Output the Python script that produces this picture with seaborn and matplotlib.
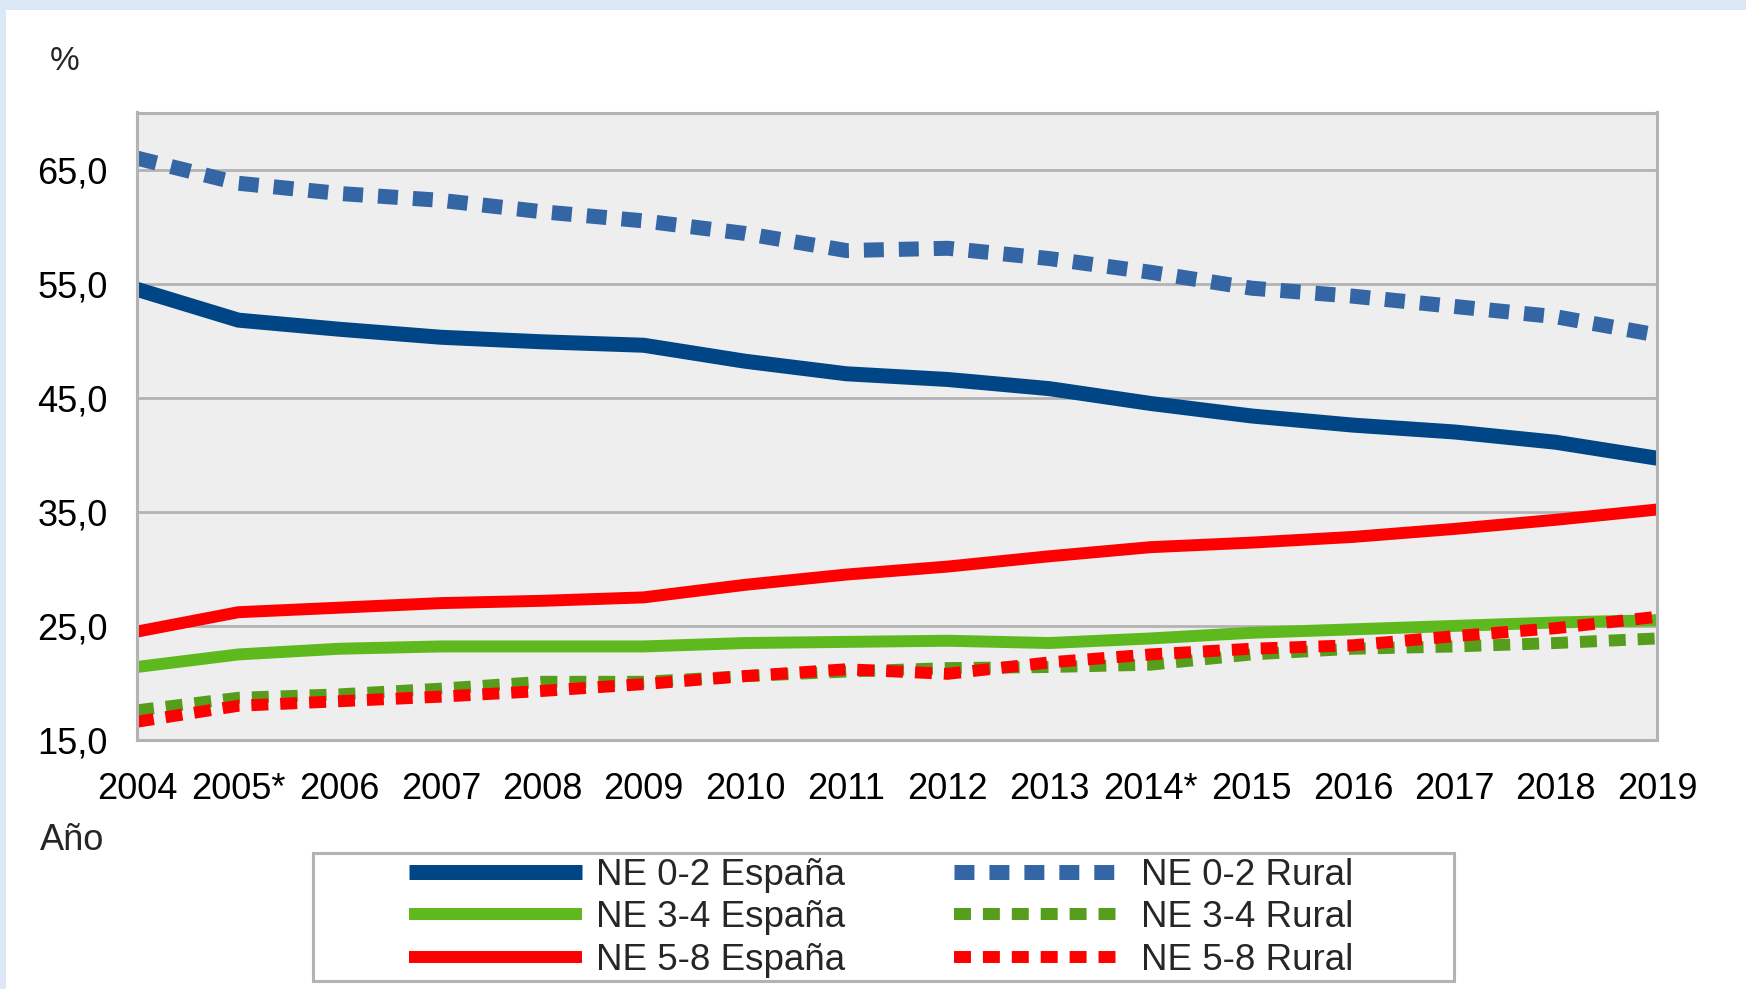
import pandas as pd
import matplotlib.pyplot as plt
import seaborn as sns
from matplotlib.lines import Line2D
from matplotlib.patches import Rectangle

# Datos (% por nivel de estudios)
anios = list(range(2004, 2020))
etiquetas_x = ['2004', '2005*', '2006', '2007', '2008', '2009', '2010', '2011',
               '2012', '2013', '2014*', '2015', '2016', '2017', '2018', '2019']
ne02_espana = [54.5, 51.8, 51.0, 50.3, 49.9, 49.6, 48.2, 47.1,
               46.6, 45.8, 44.5, 43.4, 42.6, 42.0, 41.1, 39.7]
ne34_espana = [21.4, 22.5, 23.0, 23.2, 23.2, 23.2, 23.5, 23.6,
               23.7, 23.5, 23.9, 24.4, 24.7, 25.0, 25.3, 25.5]
ne58_espana = [24.5, 26.2, 26.6, 27.0, 27.2, 27.5, 28.6, 29.5,
               30.2, 31.1, 31.9, 32.3, 32.8, 33.5, 34.3, 35.2]
ne02_rural = [66.0, 63.8, 62.9, 62.3, 61.3, 60.5, 59.4, 57.9,
              58.1, 57.2, 56.0, 54.6, 53.9, 53.0, 52.1, 50.5]
ne34_rural = [17.6, 18.7, 19.0, 19.5, 20.1, 20.1, 20.6, 21.0,
              21.3, 21.4, 21.6, 22.5, 23.0, 23.2, 23.5, 23.9]
ne58_rural = [16.6, 18.0, 18.4, 18.8, 19.3, 19.9, 20.6, 21.2,
              20.8, 21.8, 22.5, 23.0, 23.3, 24.1, 24.8, 25.8]
series = ['NE 0-2 España', 'NE 3-4 España', 'NE 5-8 España',
          'NE 0-2 Rural', 'NE 3-4 Rural', 'NE 5-8 Rural']
valores = [ne02_espana, ne34_espana, ne58_espana, ne02_rural, ne34_rural, ne58_rural]
yticks = [15, 25, 35, 45, 55, 65]
etiquetas_y = ['15,0', '25,0', '35,0', '45,0', '55,0', '65,0']

df = pd.DataFrame([
    {'Año': a, 'valor': v, 'serie': s}
    for s, vals in zip(series, valores) for a, v in zip(anios, vals)
])

colores = {'NE 0-2 España': '#004586', 'NE 3-4 España': '#5eb91e', 'NE 5-8 España': '#ff0000',
           'NE 0-2 Rural': '#3465a4', 'NE 3-4 Rural': '#579d1c', 'NE 5-8 Rural': '#ff0000'}
grosor = {'NE 0-2 España': 10.8, 'NE 3-4 España': 8.6, 'NE 5-8 España': 8.6,
          'NE 0-2 Rural': 10.8, 'NE 3-4 Rural': 8.6, 'NE 5-8 Rural': 8.6}
trazos = {'NE 0-2 España': '', 'NE 3-4 España': '', 'NE 5-8 España': '',
          'NE 0-2 Rural': (1.33, 1.0), 'NE 3-4 Rural': (1.42, 1.0), 'NE 5-8 Rural': (1.42, 1.0)}

sns.set_style('white')
plt.rcParams['font.family'] = ['Liberation Sans', 'DejaVu Sans']
plt.rcParams['lines.solid_capstyle'] = 'butt'
plt.rcParams['lines.dash_capstyle'] = 'butt'
gris = '#b3b3b3'

fig = plt.figure(figsize=(17.46, 9.89), dpi=100, facecolor='#dce8f5')
fig.patches.append(Rectangle((6 / 1746, 0), 1, 1 - 10 / 989, transform=fig.transFigure,
                             facecolor='white', edgecolor='none', zorder=-2))
ax = fig.add_axes([137 / 1746, 1 - 740 / 989, 1520 / 1746, (740 - 112.5) / 989])
ax.set_facecolor('#eeeeee')

sns.lineplot(data=df, x='Año', y='valor', hue='serie', style='serie', size='serie',
             hue_order=series, style_order=series, size_order=series,
             palette=colores, dashes=trazos, sizes=grosor, legend=False, ax=ax)

ax.set_xlim(2004, 2019)
ax.set_ylim(15, 70)
ax.set_xticks(anios)
ax.set_xticklabels(etiquetas_x)
ax.set_yticks(yticks)
ax.set_yticklabels(etiquetas_y)
ax.set_xlabel('')
ax.set_ylabel('')
ax.grid(axis='y', color=gris, lw=2)
ax.set_axisbelow(True)
for sp in ax.spines.values():
    sp.set_color(gris)
    sp.set_linewidth(2.2)
ax.tick_params(axis='both', length=13, width=2, color=gris, labelsize=26,
               labelcolor='black', direction='out')
ax.tick_params(axis='x', pad=10)
ax.tick_params(axis='y', pad=8)

fig.text(65 / 1746, 1 - 62 / 989, '%', fontsize=24, ha='center', va='center')
fig.text(72 / 1746, 1 - 840 / 989, 'Año', fontsize=26, ha='center', va='center')

# leyenda
handles = [Line2D([], [], color=colores[s], lw=grosor[s],
                  dashes=trazos[s] if trazos[s] else (None, None)) for s in series]
fig.patches.append(Rectangle((313 / 1746, 1 - 981 / 989), (1454 - 313) / 1746, 128 / 989,
                             transform=fig.transFigure, facecolor='white',
                             edgecolor=gris, lw=2.2, zorder=-1))
leg = ax.legend(handles, series, ncol=2, loc='upper left',
                bbox_to_anchor=(409 / 1746, 1 - 858 / 989), bbox_transform=fig.transFigure,
                frameon=False, fontsize=26.5, handlelength=4.7, handletextpad=0.38,
                columnspacing=2.95, labelspacing=0.2, borderpad=0, borderaxespad=0)

fig.savefig('out.png', dpi=100, facecolor=fig.get_facecolor())
